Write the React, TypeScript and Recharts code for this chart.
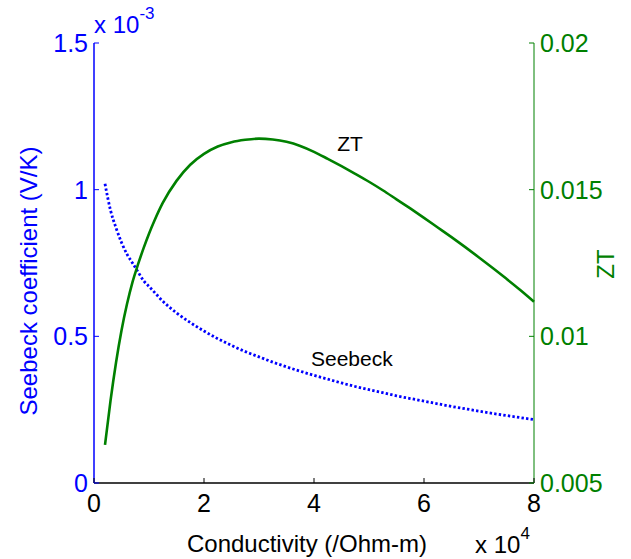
import React from 'react';
import { ComposedChart, Line, XAxis, YAxis } from 'recharts';

// conductivity, units of 1e4 /Ohm-m
const conductivity = [
  0.2, 0.3, 0.4, 0.5, 0.6, 0.7, 0.8, 0.9, 1.0, 1.1,
  1.25, 1.5, 1.75, 2.0, 2.25, 2.5, 2.75, 3.0, 3.25, 3.5, 3.75, 4.0, 4.25, 4.5,
  4.75, 5.0, 5.25, 5.5, 5.75, 6.0, 6.25, 6.5, 6.75, 7.0, 7.25, 7.5, 7.75, 8.0,
];
// Seebeck coefficient, units of 1e-3 V/K
const seebeck = [
  1.02, 0.93, 0.87, 0.82, 0.78, 0.75, 0.72, 0.69, 0.67, 0.65,
  0.62, 0.58, 0.547, 0.518, 0.492, 0.469, 0.448, 0.43, 0.412, 0.396, 0.381, 0.367, 0.354, 0.341,
  0.329, 0.318, 0.308, 0.297, 0.288, 0.279, 0.27, 0.261, 0.253, 0.245, 0.237, 0.23, 0.223, 0.216,
];
const zt = [
  0.0063, 0.0078, 0.0091, 0.0102, 0.0111, 0.01185, 0.01245, 0.013, 0.0135, 0.01395,
  0.01455, 0.0153, 0.01585, 0.01622, 0.01647, 0.01662, 0.0167, 0.01674, 0.01671, 0.01663, 0.01649, 0.01629, 0.01605, 0.0158,
  0.01554, 0.01527, 0.01498, 0.01467, 0.01436, 0.01404, 0.01371, 0.01338, 0.01304, 0.01269, 0.01233, 0.01196, 0.01158, 0.01118,
];

const xTicks = [0, 2, 4, 6, 8];
const seebeckTicks = [0, 0.5, 1, 1.5];
const ztTicks = [0.005, 0.01, 0.015, 0.02];

const data = conductivity.map((c, i) => ({ c, s: seebeck[i], zt: zt[i] }));

const BLUE = '#0000FF';
const GREEN = '#008000';
const FONT = '"Liberation Sans", Arial, Helvetica, sans-serif';
const TICK_FONT = 25;
const TICK_LEN = 5;

function makeTick(side: 'left' | 'right' | 'bottom' | 'top', color: string, lineColor: string) {
  return (props: any) => {
    const { x, y, payload } = props;
    const label = String(payload.value);
    if (side === 'left') {
      return (
        <g>
          <line x1={x} y1={y} x2={x + TICK_LEN} y2={y} stroke={lineColor} strokeWidth={1} />
          <text x={x - 6} y={y + 9} textAnchor="end" fill={color} fontSize={TICK_FONT} fontFamily={FONT}>
            {label}
          </text>
        </g>
      );
    }
    if (side === 'right') {
      return (
        <g>
          <line x1={x} y1={y} x2={x - TICK_LEN} y2={y} stroke={lineColor} strokeWidth={1} />
          <text x={x + 6} y={y + 9} textAnchor="start" fill={color} fontSize={TICK_FONT} fontFamily={FONT}>
            {label}
          </text>
        </g>
      );
    }
    if (side === 'bottom') {
      return (
        <g>
          <line x1={x} y1={y} x2={x} y2={y - TICK_LEN} stroke={lineColor} strokeWidth={1} />
          <text x={x} y={y + 29} textAnchor="middle" fill={color} fontSize={TICK_FONT} fontFamily={FONT}>
            {label}
          </text>
        </g>
      );
    }
    return <line x1={x} y1={y} x2={x} y2={y + TICK_LEN} stroke={lineColor} strokeWidth={1} />;
  };
}

export default function App() {
  return (
    <div style={{ position: 'absolute', left: 0, top: 0, width: 631, height: 559, background: '#fff' }}>
      <ComposedChart width={631} height={559} data={data} margin={{ top: 43, right: 0, bottom: 0, left: 0 }}>
        <XAxis
          xAxisId="bottom"
          dataKey="c"
          type="number"
          domain={[0, 8]}
          ticks={xTicks}
          interval={0}
          height={76}
          tickSize={0}
          tickMargin={0}
          axisLine={{ stroke: '#000', strokeWidth: 1.5 }}
          tickLine={false}
          tick={makeTick('bottom', '#000', '#000')}
        />
        <XAxis
          xAxisId="top"
          orientation="top"
          dataKey="c"
          type="number"
          domain={[0, 8]}
          ticks={[2, 4, 6]}
          interval={0}
          height={0}
          tickSize={0}
          tickMargin={0}
          axisLine={{ stroke: '#333', strokeWidth: 1.5 }}
          tickLine={false}
          tick={makeTick('top', '#000', '#333')}
        />
        <YAxis
          yAxisId="s"
          orientation="left"
          type="number"
          domain={[0, 1.5]}
          ticks={seebeckTicks}
          interval={0}
          width={94}
          tickSize={0}
          tickMargin={0}
          axisLine={{ stroke: BLUE, strokeWidth: 1.5 }}
          tickLine={false}
          tick={makeTick('left', BLUE, BLUE)}
        />
        <YAxis
          yAxisId="zt"
          orientation="right"
          type="number"
          domain={[0.005, 0.02]}
          ticks={ztTicks}
          interval={0}
          width={97}
          tickSize={0}
          tickMargin={0}
          axisLine={{ stroke: GREEN, strokeWidth: 1 }}
          tickLine={false}
          tick={makeTick('right', GREEN, GREEN)}
        />
        <Line
          xAxisId="bottom"
          yAxisId="s"
          dataKey="s"
          type="monotone"
          stroke={BLUE}
          strokeWidth={2.8}
          strokeDasharray="2.4 2.2"
          dot={false}
          isAnimationActive={false}
        />
        <Line
          xAxisId="bottom"
          yAxisId="zt"
          dataKey="zt"
          type="monotone"
          stroke={GREEN}
          strokeWidth={2.6}
          dot={false}
          isAnimationActive={false}
        />
      </ComposedChart>
      <svg
        width={631}
        height={559}
        style={{ position: 'absolute', left: 0, top: 0, pointerEvents: 'none' }}
        fontFamily={FONT}
      >
        <text x={94} y={33} fill={BLUE} fontSize={24}>
          x 10<tspan dy={-14} fontSize={17}>-3</tspan>
        </text>
        <text x={475} y={553} fill="#000" fontSize={24}>
          x 10<tspan dy={-14} fontSize={17}>4</tspan>
        </text>
        <text x={307} y={552} fill="#000" fontSize={24} textAnchor="middle">
          Conductivity (/Ohm-m)
        </text>
        <text transform="translate(37,281) rotate(-90)" fill={BLUE} fontSize={24} textAnchor="middle">
          Seebeck coefficient (V/K)
        </text>
        <text transform="translate(614,264) rotate(-90)" fill={GREEN} fontSize={24} textAnchor="middle">
          ZT
        </text>
        <text x={350} y={151} fill="#000" fontSize={21} textAnchor="middle">
          ZT
        </text>
        <text x={311} y={366} fill="#000" fontSize={21}>
          Seebeck
        </text>
      </svg>
    </div>
  );
}
